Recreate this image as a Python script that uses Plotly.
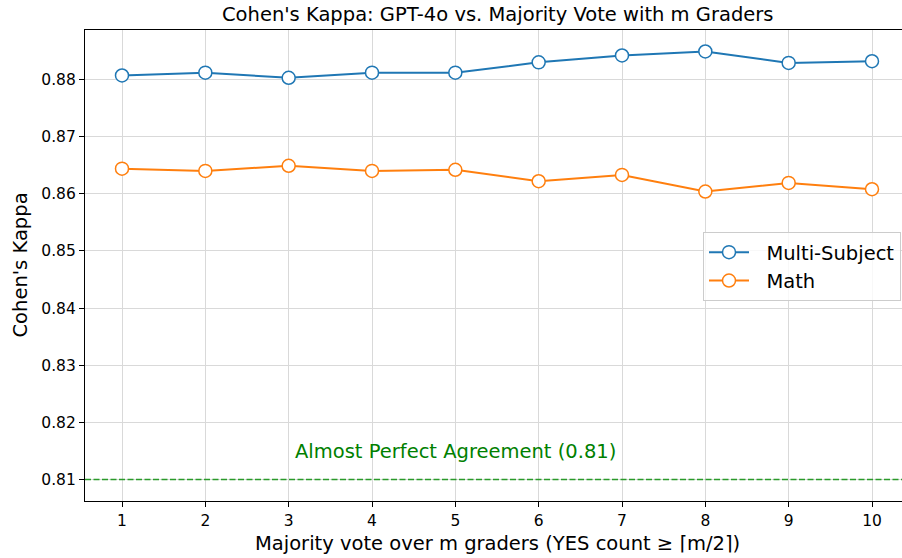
import plotly.graph_objects as go

# ---- data ----
m_graders = [1, 2, 3, 4, 5, 6, 7, 8, 9, 10]
multi_subject = [0.8807, 0.8812, 0.8803, 0.8812, 0.8812, 0.8830, 0.8842, 0.8849, 0.8829, 0.8832]
math_kappa = [0.8644, 0.8640, 0.8649, 0.8640, 0.8642, 0.8622, 0.8633, 0.8604, 0.8619, 0.8608]
y_ticks = [0.81, 0.82, 0.83, 0.84, 0.85, 0.86, 0.87, 0.88]
threshold = 0.81
threshold_label = "Almost Perfect Agreement (0.81)"
series_names = ["Multi-Subject", "Math"]

FONT = "DejaVu Sans"
BLUE = "#1f77b4"
ORANGE = "#ff7f0e"
GREEN = "#008000"
BIG = 19.5
NBSP2 = "\u00a0\u00a0"

fig = go.Figure()

fig.add_trace(go.Scatter(
    x=m_graders, y=multi_subject, mode="lines+markers", name=NBSP2 + series_names[0],
    line=dict(color=BLUE, width=2),
    marker=dict(symbol="circle", size=13, color="white", line=dict(color=BLUE, width=1.5)),
))
fig.add_trace(go.Scatter(
    x=m_graders, y=math_kappa, mode="lines+markers", name=NBSP2 + series_names[1],
    line=dict(color=ORANGE, width=2),
    marker=dict(symbol="circle", size=13, color="white", line=dict(color=ORANGE, width=1.5)),
))

# threshold line
fig.add_shape(type="line", xref="paper", x0=0, x1=1, yref="y", y0=threshold, y1=threshold,
              line=dict(color="#2a9a2a", width=1.6, dash="6px,2.5px"), layer="above")

fig.add_annotation(x=5, y=0.8149, xref="x", yref="y", text=threshold_label, showarrow=False,
                   xanchor="center", yanchor="middle",
                   font=dict(family=FONT, size=BIG, color=GREEN))

# title
fig.add_annotation(x=0.5055, y=(501 - 14.5) / 471, xref="paper", yref="paper",
                   text="Cohen's Kappa: GPT-4o vs. Majority Vote with m Graders",
                   showarrow=False, xanchor="center", yanchor="middle",
                   font=dict(family=FONT, size=BIG, color="black"))
# x title
fig.add_annotation(x=0.5055, y=(501 - 543) / 471, xref="paper", yref="paper",
                   text="Majority vote over m graders (YES count ≥ ⌈m/2⌉)",
                   showarrow=False, xanchor="center", yanchor="middle",
                   font=dict(family=FONT, size=BIG, color="black"))
# y title
fig.add_annotation(x=(20 - 85) / 817, y=0.5, xref="paper", yref="paper",
                   text="Cohen's Kappa", textangle=-90,
                   showarrow=False, xanchor="center", yanchor="middle",
                   font=dict(family=FONT, size=BIG, color="black"))

fig.update_layout(
    width=902, height=558,
    margin=dict(l=85, r=0, t=30, b=57, autoexpand=False),
    paper_bgcolor="white", plot_bgcolor="white",
    font=dict(family=FONT, size=15.5, color="black"),
    showlegend=True,
    legend=dict(x=(703 - 85) / 817, xanchor="left", y=(501 - 232) / 471, yanchor="top",
                bgcolor="rgba(255,255,255,0.8)", bordercolor="#cccccc", borderwidth=1,
                font=dict(family=FONT, size=BIG, color="black"),
                itemwidth=40),
)

fig.update_xaxes(
    range=[0.556, 10.36], tickmode="array", tickvals=m_graders,
    ticks="outside", ticklen=5, tickwidth=1, tickcolor="black",
    showline=True, linecolor="black", linewidth=1.2, mirror=True,
    showgrid=True, gridcolor="#d9d9d9", gridwidth=1, zeroline=False, automargin=False,
    tickfont=dict(family=FONT, size=15.5, color="black"),
)
fig.update_yaxes(
    range=[0.80625, 0.88866], tickmode="array", tickvals=y_ticks,
    ticktext=[f"{v:.2f}" for v in y_ticks],
    ticks="outside", ticklen=5, tickwidth=1, tickcolor="black",
    showline=True, linecolor="black", linewidth=1.2, mirror=False,
    showgrid=True, gridcolor="#d9d9d9", gridwidth=1, zeroline=False, automargin=False,
    tickfont=dict(family=FONT, size=15.5, color="black"),
)

fig.write_html(
    "out.html",
    config={"displayModeBar": False},
    post_script="document.body.style.margin='0';document.body.style.padding='0';document.body.style.overflow='hidden';",
)
